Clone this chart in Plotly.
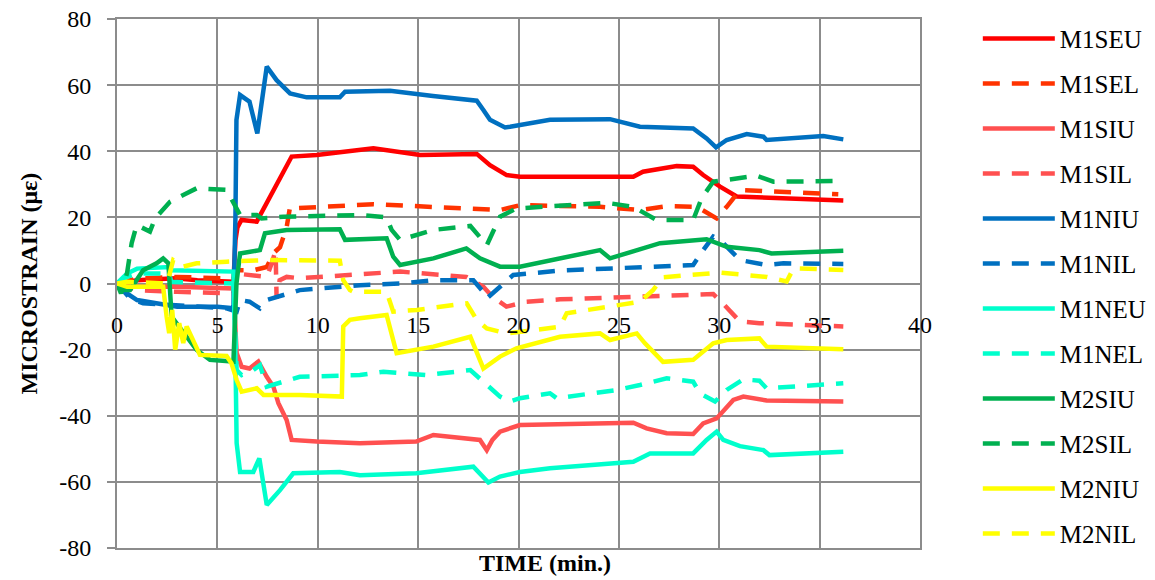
import plotly.graph_objects as go

names = ["M1SEU", "M1SEL", "M1SIU", "M1SIL", "M1NIU", "M1NIL",
         "M1NEU", "M1NEL", "M2SIU", "M2SIL", "M2NIU", "M2NIL"]
colors = ["#FF0000", "#FF3300", "#FF5050", "#FF5050", "#0070C0", "#0070C0",
          "#00FFCC", "#00FFCC", "#00B050", "#00B050", "#FFFF00", "#FFFF00"]
dashes = ["solid", "17px,12px"] * 6

x_ticks = [0, 5, 10, 15, 20, 25, 30, 35, 40]
y_ticks = [-80, -60, -40, -20, 0, 20, 40, 60, 80]
y_tick_labels = ["-80", "-60", "-40", "-20", "0", "20", "40", "60", "80"]

m1seu_t = [0, 1, 2.9, 4, 5.8, 5.9, 6.0, 6.2, 6.96, 7.46, 8.12, 8.7, 9.95, 12.1, 12.77, 15.1, 17.92, 18.58, 19.41, 20.07, 25.72, 26.2, 27.88, 28.7, 29.2, 30.04, 30.87, 36.18]
m1seu_v = [0, 1, 1.6, 1, 0.5, 13, 17, 19.2, 18.7, 24.3, 31.3, 38.4, 38.9, 40.4, 40.9, 38.9, 39.2, 35.8, 32.8, 32.3, 32.3, 33.8, 35.5, 35.3, 32.8, 29.3, 26.3, 25.1]

m1sel_t = [0, 1, 3, 5.8, 5.95, 6.8, 7.46, 7.8, 8.12, 8.45, 8.62, 8.75, 12.77, 15.76, 19.08, 20.07, 24.07, 26.05, 27.38, 28.88, 29.87, 30.37, 31.03, 35.93]
m1sel_v = [0, 1.5, 2, 1.5, 4, 4, 5, 9.2, 11, 17, 23.2, 22.7, 24, 23.2, 22.2, 23.7, 23.2, 22.2, 23.4, 23.2, 19.7, 23.2, 28.3, 27]

m1siu_t = [0, 0.7, 3, 5.8, 5.96, 6.21, 6.6, 7.04, 7.46, 7.79, 8.04, 8.45, 8.7, 9.95, 12.1, 14.9, 15.76, 18.08, 18.42, 18.7, 19.08, 20.07, 25.72, 26.38, 27.38, 28.7, 29.2, 29.87, 30.7, 31.2, 32.36, 36.18]
m1siu_v = [0, -1, -1, -1.5, -21, -25.2, -25.7, -23.6, -28.2, -31.2, -36.2, -41.3, -47.3, -47.8, -48.3, -47.8, -45.8, -47.3, -50.4, -47.3, -44.8, -42.8, -42.1, -43.8, -45.3, -45.5, -42.3, -40.8, -35.2, -34.2, -35.4, -35.7]

m1sil_t = [0, 1, 3, 5.8, 5.96, 7.46, 7.7, 7.9, 7.95, 8.1, 8.45, 9.1, 14.1, 17.4, 18.25, 18.7, 19.4, 20.4, 22.07, 25.05, 27.7, 29.7, 30.1, 31.03, 32, 36.18]
m1sil_v = [0, -2, -2.5, -3, 3, 2, 6, 10, -4.6, 1, 2, 1.6, 3.6, 2, -1, -4, -7, -5.5, -4.8, -4.2, -3.5, -3.2, -5.5, -11.5, -12, -13]

m1niu_t = [0, 0.5, 1, 2, 3, 5, 5.8, 5.9, 5.95, 6.13, 6.6, 6.99, 7.2, 7.46, 7.95, 8.62, 9.45, 11.1, 11.36, 13.6, 15.74, 17.92, 18.25, 18.58, 19.33, 19.58, 21.57, 24.56, 26.05, 28.7, 29.37, 29.84, 30.37, 31.37, 32.2, 32.36, 35.18, 36.18]
m1niu_v = [0, -3, -5, -6, -7, -7, -7.5, 20, 49.5, 57, 55, 45.4, 53.5, 65.6, 61.5, 57.5, 56.3, 56.3, 58, 58.3, 56.7, 55.3, 52.5, 49.5, 47.2, 47.4, 49.5, 49.7, 47.4, 46.9, 43.9, 41.2, 43.4, 45.2, 44.4, 43.4, 44.6, 43.6]

m1nil_t = [0, 0.65, 1.3, 3.8, 5.46, 5.96, 6.13, 6.6, 7.12, 7.46, 8.28, 9.1, 12.1, 14.1, 15.76, 17.75, 18.17, 18.42, 19.08, 19.74, 22.07, 25.05, 28.7, 29.2, 29.7, 30.04, 31.03, 32.36, 33.2, 36.18]
m1nil_v = [0, -4.5, -6, -7, -7.5, -8.5, -5, -5.5, -7.5, -5, -3.5, -2, -0.5, 0, 1, 1, -2, -4.5, -1, 2.6, 3.9, 4.6, 5.6, 10.1, 14.2, 13.2, 7.1, 5.6, 6.1, 5.9]

m1neu_t = [0, 0.5, 1, 2.6, 2.7, 5.8, 5.9, 5.96, 6.13, 6.79, 7.09, 7.46, 8.12, 8.78, 11.1, 12.1, 14.9, 17.75, 18.5, 19.08, 20.07, 21.57, 25.72, 26.55, 28.7, 29.37, 29.87, 30.2, 31.03, 32.2, 32.5, 36.18]
m1neu_v = [0, 3, 4.5, 5, 4, 3.6, -22, -48.3, -57, -57, -52.9, -67, -62.5, -57.4, -57, -58, -57.4, -55.4, -60.2, -58.4, -57, -55.9, -53.9, -51.4, -51.4, -47.3, -44.8, -47.3, -49.2, -50.4, -51.9, -50.9]

m1nel_t = [0, 0.5, 1, 2.6, 2.7, 5.8, 5.96, 6.21, 6.79, 7.12, 7.46, 8.45, 9.1, 12.1, 13.27, 15.4, 17.6, 19.08, 19.58, 20.07, 21.57, 21.9, 24.9, 26.05, 27.38, 28.7, 29.04, 29.79, 30.37, 31.2, 32.0, 32.36, 36.18]
m1nel_v = [0, 2, 3, 3, 0.5, 0, -26.2, -27.7, -26.2, -24.7, -31.2, -29.2, -28.2, -27.7, -26.7, -27.7, -26.2, -34.2, -35.7, -34.7, -33.2, -34.7, -32.2, -30.7, -28.7, -29.7, -33.2, -35.7, -32.2, -29, -29.4, -31.7, -30.2]

m2siu_t = [0, 0.3, 0.65, 1.3, 1.97, 2.3, 2.56, 2.72, 3.47, 3.97, 4.63, 5.46, 5.8, 5.95, 6.13, 7.12, 7.37, 8.45, 11.1, 11.36, 13.43, 13.76, 14.1, 15.76, 17.4, 18.08, 19.08, 20.07, 24.06, 24.56, 27.05, 29.37, 30.37, 32.0, 32.6, 36.18]
m2siu_v = [0, -2, -2, 4, 6.1, 7.6, 6.1, -10, -16.1, -20.1, -23.1, -23.6, -23.6, 0, 9.1, 10.1, 15.2, 16.2, 16.4, 13.2, 13.7, 8.1, 5.6, 7.6, 10.6, 7.6, 5.1, 5.1, 10.1, 7.6, 12.2, 13.4, 11.1, 10.1, 9.1, 9.9]

m2sil_t = [0, 0.2, 0.5, 0.73, 0.98, 1.64, 1.9, 2.64, 3.3, 3.97, 5.46, 5.79, 6.13, 6.96, 7.2, 8.28, 12.1, 13.43, 13.68, 14.1, 15.76, 17.6, 18.42, 19.08, 19.9, 24.4, 25.72, 26.88, 28.7, 29.12, 29.7, 31.87, 32.7, 36.18]
m2sil_v = [0, -3, 3.1, 12.2, 17.7, 15.7, 19.7, 24.7, 26.8, 28.8, 28.3, 24.3, 20.7, 20.7, 19.7, 20.2, 20.7, 20, 16.2, 13.2, 16.2, 17.4, 11.6, 20.2, 22.7, 24.4, 23.2, 19.2, 19.2, 25.8, 30.8, 32.6, 30.8, 31]

m2niu_t = [0, 0.5, 1, 2.3, 2.47, 2.6, 2.75, 2.9, 3.1, 3.3, 3.47, 3.97, 4.13, 5.46, 5.7, 5.96, 6.21, 6.96, 7.3, 9.1, 11.2, 11.27, 11.6, 12.1, 13.43, 13.93, 15.76, 17.6, 18.25, 19.08, 19.9, 22.07, 24.06, 24.56, 25.89, 26.3, 27.2, 28.7, 29.7, 30.37, 32.0, 32.36, 33.7, 36.18]
m2niu_v = [0, -1, -1, -1, -10, -15, -8, -20, -12, -18, -13, -19, -21.6, -21.9, -24.1, -29.2, -32.7, -31.7, -33.7, -33.7, -34.2, -13, -11, -10.5, -9.5, -21.1, -19.1, -16.1, -25.7, -22.1, -19.6, -16.1, -15.1, -17.1, -15.1, -18.1, -23.7, -23.1, -18.1, -17.1, -16.6, -19.1, -19.3, -19.9]

m2nil_t = [0, 0.5, 2.5, 2.8, 3.3, 3.97, 5.46, 7.46, 11.1, 11.27, 11.6, 11.77, 13.43, 13.76, 14.93, 17.42, 17.92, 18.42, 19.41, 22.07, 22.4, 24.06, 26.05, 26.7, 27.2, 30.04, 32.36, 33.36, 33.7, 36.18]
m2nil_v = [0, 0.5, 0, 7.1, 5.1, 6.1, 6.6, 7.1, 6.9, 1, -2, -2.5, -2.5, -8.5, -8, -6, -11, -13.6, -15.1, -13.1, -9, -7.5, -5.5, -2, 1.9, 3.3, 2, 0.6, 4.6, 4.1]

series_t = [m1seu_t, m1sel_t, m1siu_t, m1sil_t, m1niu_t, m1nil_t,
            m1neu_t, m1nel_t, m2siu_t, m2sil_t, m2niu_t, m2nil_t]
series_v = [m1seu_v, m1sel_v, m1siu_v, m1sil_v, m1niu_v, m1nil_v,
            m1neu_v, m1nel_v, m2siu_v, m2sil_v, m2niu_v, m2nil_v]

FONT = "Liberation Serif"
GRID = "#8C8C8C"

fig = go.Figure()
for i, name in enumerate(names):
    fig.add_trace(go.Scatter(
        x=series_t[i], y=series_v[i], mode="lines", name=name,
        legendgroup=name,
        line=dict(color=colors[i], width=4.5, dash=dashes[i]),
        xaxis="x2" if i == len(names) - 1 else "x",
    ))

fig.update_layout(
    width=1155, height=580,
    margin=dict(l=117, r=235, t=19, b=32, autoexpand=False),
    paper_bgcolor="white", plot_bgcolor="white",
    font=dict(family=FONT, size=24, color="black"),
    showlegend=True,
    legend=dict(x=1.072, y=1.0063, xanchor="left", yanchor="top",
                font=dict(family=FONT, size=25, color="black"),
                tracegroupgap=9.5, bgcolor="rgba(0,0,0,0)",
                itemwidth=72, maxheight=1.0),
    xaxis=dict(range=[0, 40], tickvals=x_ticks, showticklabels=False,
               showgrid=True, gridcolor=GRID, gridwidth=2,
               zeroline=False, showline=True, linecolor=GRID, linewidth=2,
               mirror=True, ticks="", automargin=False),
    xaxis2=dict(range=[0, 40], tickvals=x_ticks, overlaying="x",
                anchor="free", position=0.5, side="bottom",
                showgrid=False, zeroline=False, showline=False,
                ticks="", ticklabelstandoff=24, automargin=False,
                ticklabeloverflow="allow",
                tickfont=dict(family=FONT, size=24, color="black")),
    yaxis=dict(range=[-80, 80], tickvals=y_ticks, ticktext=y_tick_labels,
               showgrid=True, gridcolor=GRID, gridwidth=2,
               zeroline=True, zerolinecolor=GRID, zerolinewidth=2,
               showline=True, linecolor=GRID, linewidth=2, mirror=True,
               ticks="outside", ticklen=8, tickcolor=GRID, tickwidth=2,
               ticklabelstandoff=11, automargin=False,
               ticklabeloverflow="allow",
               tickfont=dict(family=FONT, size=24, color="black")),
    annotations=[
        dict(text="<b>TIME (min.)</b>", xref="paper", yref="paper",
             x=(545 - 117) / 803, y=-0.028, xanchor="center", yanchor="middle",
             showarrow=False, font=dict(family=FONT, size=24, color="black")),
        dict(text="<b>MICROSTRAIN (με)</b>", xref="paper", yref="paper",
             x=-(117 - 28) / 803, y=0.5, xanchor="center", yanchor="middle",
             textangle=-90, showarrow=False,
             font=dict(family=FONT, size=24, color="black")),
    ],
)

fig.write_html("out.html", config={"displayModeBar": False},
               post_script="document.body.style.margin='0';")
